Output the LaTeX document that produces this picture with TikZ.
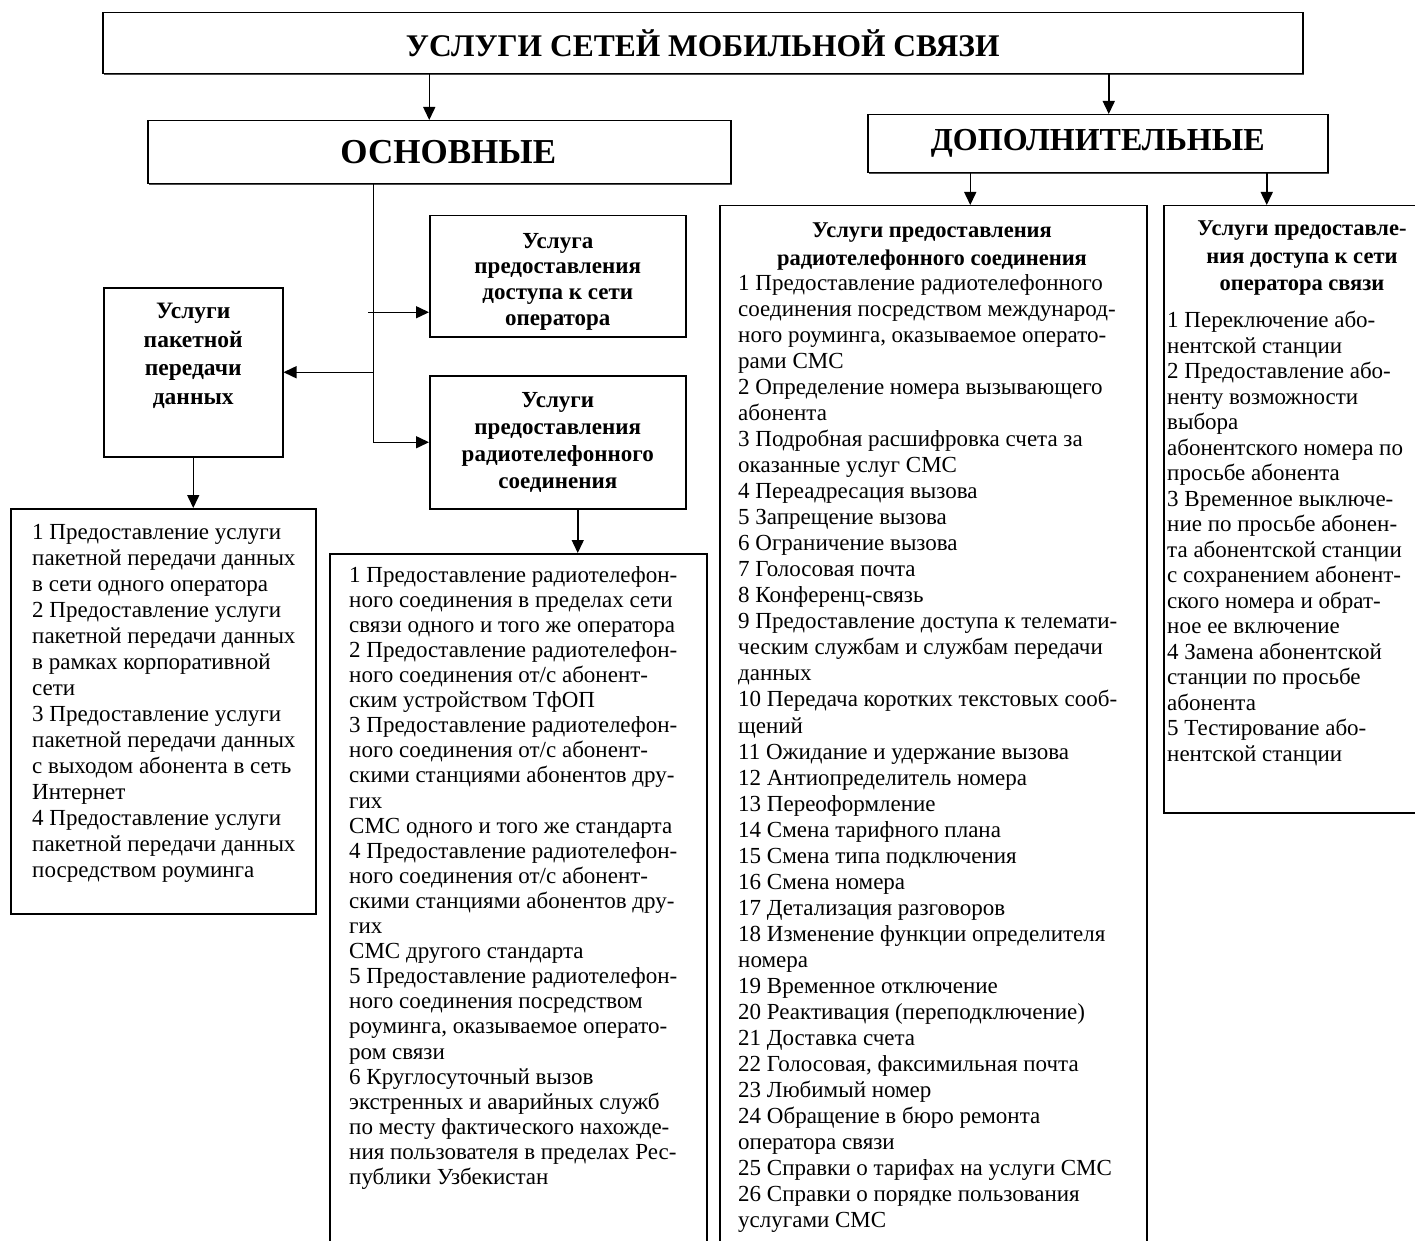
\documentclass[tikz,border=0pt]{standalone}
\usepackage{fontspec}
\setmainfont{Liberation Serif}
\usetikzlibrary{positioning, calc, arrows.meta, shadows}
\tikzstyle{box} = [rectangle, draw, line width=1.5pt, fill=white, anchor=north west, inner sep=0pt,
  drop shadow={shadow xshift=1.2pt, shadow yshift=-1.2pt, fill=black!70, opacity=1}]
\tikzstyle{head} = [box, align=center, font=\bfseries\fontsize{23}{27}\selectfont]
\tikzstyle{txt} = [anchor=north west, inner sep=0pt, align=left]
\tikzstyle{htxt} = [anchor=north, inner sep=0pt, align=center, font=\bfseries\fontsize{22.5}{27.5}\selectfont]
\tikzstyle{line} = [draw, line width=1.5pt, -{Triangle[length=13pt,width=12pt]}]

\begin{document}
\begin{tikzpicture}[x=1pt, y=-1pt]
    \useasboundingbox (0,0) rectangle (1415,1241);
    \clip (0,0) rectangle (1415,1241);
    %%% Top level:
    \node[head, minimum width=1200pt, minimum height=61pt, font=\bfseries\fontsize{31.5}{36}\selectfont]
      (title) at (102,12) {УСЛУГИ СЕТЕЙ МОБИЛЬНОЙ СВЯЗИ};
    \node[head, minimum width=583pt, minimum height=63pt, font=\bfseries\fontsize{35}{40}\selectfont]
      (osn) at (147,120) {\hspace*{18pt}ОСНОВНЫЕ};
    \node[head, minimum width=460pt, minimum height=58pt, font=\bfseries\fontsize{32}{36}\selectfont]
      (dop) at (867,114) {ДОПОЛНИТЕЛЬНЫЕ};
    %%% Basic services:
    \node[box, minimum width=179pt, minimum height=169pt] (packet) at (103,287) {};
    \node[htxt, font=\bfseries\fontsize{23.5}{28.5}\selectfont] (packettxt) at ([yshift=-16pt]packet.north)
      {Услуги\\пакетной\\передачи\\данных};
    \node[box, minimum width=256pt, minimum height=121pt] (access) at (429,215) {};
    \node[htxt, font=\bfseries\fontsize{23}{25.7}\selectfont] (accesstxt) at ([yshift=-18pt]access.north)
      {Услуга\\предоставления\\доступа к сети\\оператора};
    \node[head, minimum width=256pt, minimum height=133pt] (radio) at (429,375)
      {Услуги\\предоставления\\радиотелефонного\\соединения};
    %%% Lists:
    \node[box, minimum width=305pt, minimum height=405pt] (plist) at (10,508) {};
    \node[box, minimum width=377pt, minimum height=720pt] (rlist) at (329,553) {};
    \node[box, minimum width=427pt, minimum height=1060pt] (dop1) at (719,205) {};
    \node[box, minimum width=280pt, minimum height=607pt] (dop2) at (1163,205) {};
    \node[txt, font=\fontsize{23}{26}\selectfont] (plisttxt) at (32,524) {1 Предоставление услуги\\
      пакетной передачи данных\\в сети одного оператора\\2 Предоставление услуги\\
      пакетной передачи данных\\в рамках корпоративной\\сети\\3 Предоставление услуги\\
      пакетной передачи данных\\с выходом абонента в сеть\\Интернет\\4 Предоставление услуги\\
      пакетной передачи данных\\посредством роуминга};
    \node[txt, font=\fontsize{23}{25.1}\selectfont] (rlisttxt) at (349,566) {1 Предоставление радиотелефон-\\
      ного соединения в пределах сети\\связи одного и того же оператора\\
      2 Предоставление радиотелефон-\\ного соединения от/с абонент-\\ским устройством ТфОП\\
      3 Предоставление радиотелефон-\\ного соединения от/с абонент-\\
      скими станциями абонентов дру-\\гих\\СМС одного и того же стандарта\\
      4 Предоставление радиотелефон-\\ного соединения от/с абонент-\\
      скими станциями абонентов дру-\\гих\\СМС другого стандарта\\
      5 Предоставление радиотелефон-\\ного соединения посредством\\
      роуминга, оказываемое операто-\\ром связи\\6 Круглосуточный вызов\\
      экстренных и аварийных служб\\по месту фактического нахожде-\\
      ния пользователя в пределах Рес-\\публики Узбекистан};
    %%% Additional services:
    \node[htxt] (dop1head) at (932,223) {Услуги предоставления\\радиотелефонного соединения};
    \node[txt, font=\fontsize{23}{26.05}\selectfont] (dop1txt) at (738,274) {1 Предоставление радиотелефонного\\
      соединения посредством международ-\\ного роуминга, оказываемое операто-\\рами СМС\\
      2 Определение номера вызывающего\\абонента\\3 Подробная расшифровка счета за\\
      оказанные услуг СМС\\4 Переадресация вызова\\5 Запрещение вызова\\6 Ограничение вызова\\
      7 Голосовая почта\\8 Конференц-связь\\9 Предоставление доступа к телемати-\\
      ческим службам и службам передачи\\данных\\10 Передача коротких текстовых сооб-\\щений\\
      11 Ожидание и удержание вызова\\12 Антиопределитель номера\\13 Переоформление\\
      14 Смена тарифного плана\\15 Смена типа подключения\\16 Смена номера\\
      17 Детализация разговоров\\18 Изменение функции определителя\\номера\\
      19 Временное отключение\\20 Реактивация (переподключение)\\21 Доставка счета\\
      22 Голосовая, факсимильная почта\\23 Любимый номер\\24 Обращение в бюро ремонта\\
      оператора связи\\25 Справки о тарифах на услуги СМС\\26 Справки о порядке пользования\\
      услугами СМС};
    \node[htxt] (dop2head) at (1302,221) {Услуги предоставле-\\ния доступа к сети\\оператора связи};
    \node[txt, font=\fontsize{23}{25.5}\selectfont] (dop2txt) at (1167,311) {1 Переключение або-\\
      нентской станции\\2 Предоставление або-\\ненту возможности\\выбора\\
      абонентского номера по\\просьбе абонента\\3 Временное выключе-\\ние по просьбе абонен-\\
      та абонентской станции\\с сохранением абонент-\\ского номера и обрат-\\ное ее включение\\
      4 Замена абонентской\\станции по просьбе\\абонента\\5 Тестирование або-\\нентской станции};
    %%% Connectors:
    \path [line] ([xshift=-10pt]osn.north |- title.south) -- ([xshift=-10pt]osn.north);
    \path [line] ([xshift=11pt]dop.north |- title.south) -- ([xshift=11pt]dop.north);
    \path [line] ([xshift=37pt]dop1.north |- dop.south) -- ([xshift=37pt]dop1.north);
    \path [line] ([xshift=-37pt]dop2.north |- dop.south) -- ([xshift=-37pt]dop2.north);
    \coordinate (trunk) at ([xshift=-66pt]osn.south);
    \coordinate (accin) at ([yshift=-36pt]access.west);
    \draw [line width=1.5pt] (trunk) -- (trunk |- radio.west);
    \path [line] (trunk |- radio.west) -- (radio.west);
    \path [line] ([xshift=-5pt]trunk |- accin) -- (accin);
    \path [line] (trunk |- packet.east) -- (packet.east);
    \path [line] (packet.south) -- (packet.south |- plist.north);
    \path [line] ([xshift=20pt]radio.south) -- ([xshift=20pt]radio.south |- rlist.north);
  \end{tikzpicture}
\end{document}
